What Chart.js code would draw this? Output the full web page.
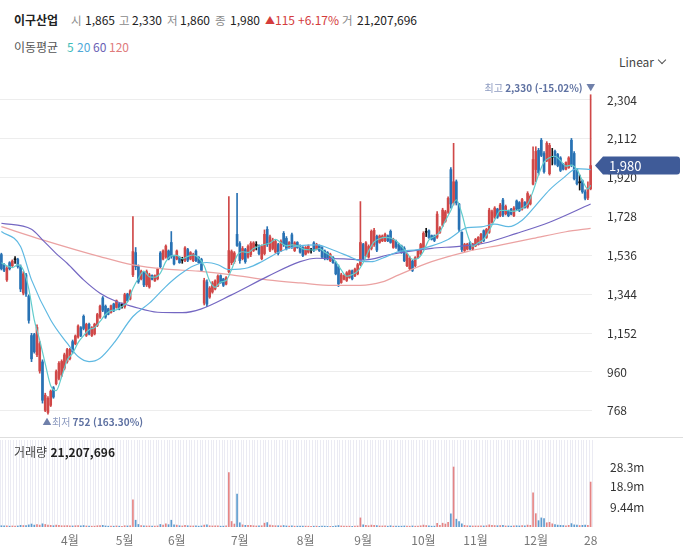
<!DOCTYPE html>
<html lang="ko">
<head>
<meta charset="utf-8">
<script src="https://cdn.jsdelivr.net/npm/chart.js@4.4.1/dist/chart.umd.min.js"></script>
<style>
html,body{margin:0;padding:0;background:#fff;}
body{font-family:"Noto Sans CJK KR","Noto Sans",sans-serif;}
#wrap{position:relative;width:683px;height:558px;overflow:hidden;}
.t{position:absolute;white-space:nowrap;line-height:16px;}
.h1{top:12px;font-size:12px;color:#222;}
.g{color:#8a8a8a;font-size:11.5px;}
.r{color:#d43c3c;}
.h2{top:39px;font-size:12px;}
#linear{left:619px;top:54px;font-size:12px;color:#444;}
.chev{position:absolute;left:659px;top:57px;width:5px;height:5px;border-right:1px solid #555;border-bottom:1px solid #555;transform:rotate(45deg);}
#mainC{position:absolute;left:0;top:80px;}
#volC{position:absolute;left:0;top:437px;}
#sep{position:absolute;left:0;top:437px;width:683px;height:1px;background:#dedede;}
#volLbl{left:14px;top:444px;font-size:12px;color:#222;}
</style>
</head>
<body>
<div id="wrap">
  <span class="t h1" style="left:14px;font-weight:bold;">이구산업</span>
  <span class="t h1 g" style="left:71px;">시</span><span class="t h1" style="left:85px;">1,865</span>
  <span class="t h1 g" style="left:119px;">고</span><span class="t h1" style="left:132px;">2,330</span>
  <span class="t h1 g" style="left:167px;">저</span><span class="t h1" style="left:180px;">1,860</span>
  <span class="t h1 g" style="left:215px;">종</span><span class="t h1" style="left:230px;">1,980</span>
  <span class="t h1 r" style="left:265px;font-size:10px;top:12px;">▲</span><span class="t h1 r" style="left:275px;">115</span>
  <span class="t h1 r" style="left:298px;">+6.17%</span>
  <span class="t h1 g" style="left:342px;">거</span><span class="t h1" style="left:357px;">21,207,696</span>

  <span class="t h2" style="left:14px;color:#555;">이동평균</span>
  <span class="t h2" style="left:67px;color:#3dbdb8;">5</span>
  <span class="t h2" style="left:77px;color:#4fa9d8;">20</span>
  <span class="t h2" style="left:93px;color:#6a5fb5;">60</span>
  <span class="t h2" style="left:109px;color:#e07b7b;">120</span>

  <span class="t" id="linear">Linear</span><span class="chev"></span>

  <canvas id="mainC" width="683" height="357"></canvas>
  <canvas id="volC" width="683" height="121"></canvas>
  <div id="sep"></div>
  <span class="t" id="volLbl"><span style="color:#444">거래량</span> <span style="font-weight:bold">21,207,696</span></span>
</div>
<script>
// ---------------- data ----------------
const openP = [1540,1490,1415,1500,1485,1515,1516,1480,1350,1440,
1335,1140,1145,1045,965,1010,770,760,795,882,
902,928,945,978,1010,1026,1110,1099,1133,1179,
1235,1141,1196,1140,1148,1190,1231,1326,1285,1272,
1254,1296,1279,1297,1288,1282,1345,1320,1440,1550,
1482,1420,1450,1390,1380,1437,1410,1420,1548,1518,
1528,1558,1600,1534,1518,1527,1512,1512,1565,1518,
1510,1557,1527,1516,1300,1405,1330,1355,1370,1388,
1436,1419,1394,1455,1500,1505,1640,1595,1520,1565,
1528,1540,1560,1585,1582,1520,1545,1665,1562,1570,
1553,1590,1560,1645,1620,1575,1638,1560,1600,1584,
1575,1542,1552,1560,1598,1567,1585,1575,1558,1550,
1510,1527,1500,1480,1402,1418,1412,1427,1460,1435,
1445,1490,1590,1535,1528,1570,1590,1630,1600,1608,
1608,1633,1655,1575,1605,1590,1582,1572,1485,1470,
1508,1485,1527,1543,1570,1650,1658,1634,1632,1626,
1650,1685,1705,1750,1960,1795,1900,1790,1650,1560,
1567,1600,1567,1583,1590,1600,1658,1625,1650,1700,
1725,1765,1733,1810,1742,1755,1764,1732,1805,1797,
1765,1798,1775,1790,1888,1960,2055,2105,2040,2005,
1940,2020,2050,2035,2018,1986,1962,1970,2105,2040,
1960,1895,1905,1850,1820,1865];
const highP = [1547,1495,1481,1505,1514,1530,1522,1489,1456,1448,
1341,1151,1151,1193,1110,1020,855,838,871,888,
970,1011,1020,1053,1077,1077,1118,1143,1193,1184,
1242,1201,1201,1184,1201,1250,1291,1333,1291,1275,
1291,1300,1316,1300,1300,1349,1349,1366,1728,1575,
1489,1464,1456,1464,1448,1440,1440,1473,1555,1563,
1588,1563,1654,1538,1563,1530,1527,1580,1571,1555,
1547,1563,1530,1522,1423,1415,1382,1407,1415,1440,
1440,1423,1431,1827,1563,1555,1843,1604,1580,1571,
1588,1604,1604,1604,1588,1588,1662,1678,1637,1621,
1613,1596,1613,1654,1629,1604,1646,1604,1604,1588,
1580,1580,1588,1571,1604,1596,1588,1580,1563,1555,
1547,1530,1505,1489,1448,1440,1456,1464,1464,1473,
1497,1802,1596,1604,1588,1662,1670,1637,1637,1637,
1646,1637,1662,1621,1612,1596,1587,1579,1546,1530,
1513,1530,1563,1596,1653,1670,1662,1637,1637,1752,
1678,1769,1759,1826,1970,2090,1909,1793,1653,1596,
1596,1604,1596,1620,1629,1645,1662,1670,1769,1760,
1777,1769,1793,1818,1785,1760,1769,1777,1810,1802,
1818,1802,1851,1835,2073,2073,2065,2114,2049,2098,
2090,2065,2057,2040,2024,1991,1999,2024,2114,2049,
1966,1933,1909,1860,1900,2330];
const lowP = [1464,1455,1407,1464,1481,1497,1473,1357,1341,1333,
1201,1011,1053,1036,954,806,764,752,789,830,
896,921,937,970,1003,1020,1053,1094,1127,1135,
1168,1135,1143,1135,1143,1184,1225,1258,1225,1242,
1250,1258,1275,1267,1275,1275,1308,1316,1431,1465,
1398,1415,1382,1382,1374,1415,1407,1415,1473,1514,
1522,1514,1522,1489,1514,1497,1497,1505,1505,1514,
1505,1505,1497,1456,1291,1283,1324,1349,1366,1382,
1398,1382,1390,1450,1490,1497,1580,1497,1514,1497,
1522,1530,1555,1563,1538,1514,1538,1580,1555,1563,
1547,1538,1555,1580,1563,1571,1571,1555,1571,1547,
1530,1538,1547,1547,1555,1563,1555,1522,1514,1514,
1505,1497,1440,1382,1398,1415,1407,1423,1415,1431,
1440,1485,1514,1530,1522,1563,1580,1555,1596,1604,
1604,1604,1596,1571,1571,1555,1546,1505,1480,1464,
1456,1480,1522,1538,1563,1629,1620,1612,1604,1620,
1645,1678,1700,1744,1770,1785,1785,1653,1555,1555,
1563,1563,1563,1579,1587,1596,1604,1620,1645,1695,
1719,1719,1727,1727,1736,1727,1736,1727,1760,1752,
1760,1769,1769,1785,1884,1900,1933,2024,1942,1999,
1933,1983,1983,1974,1950,1958,1958,1966,1974,1909,
1884,1859,1843,1810,1812,1860];
const closeP = [1470,1462,1472,1470,1508,1515,1480,1370,1445,1345,
1215,1025,1060,1180,1100,820,845,830,865,836,
962,1003,1012,1045,1070,1072,1060,1138,1187,1140,
1175,1195,1148,1179,1196,1244,1285,1265,1231,1245,
1287,1262,1312,1270,1288,1342,1312,1361,1555,1480,
1405,1458,1390,1456,1440,1418,1436,1468,1480,1558,
1582,1518,1530,1494,1558,1500,1512,1573,1512,1550,
1542,1510,1500,1462,1412,1295,1375,1400,1410,1434,
1402,1388,1426,1560,1555,1548,1585,1510,1570,1505,
1580,1595,1598,1585,1545,1580,1640,1590,1628,1612,
1605,1545,1605,1588,1570,1600,1578,1598,1575,1552,
1535,1575,1582,1560,1560,1590,1560,1528,1520,1518,
1542,1500,1445,1395,1440,1436,1450,1460,1420,1468,
1490,1600,1520,1598,1580,1655,1660,1562,1632,1632,
1640,1608,1600,1615,1578,1560,1550,1510,1540,1522,
1462,1525,1557,1590,1645,1650,1625,1616,1610,1740,
1672,1760,1752,1818,1790,1900,1795,1665,1565,1590,
1592,1568,1592,1615,1625,1640,1610,1665,1760,1752,
1770,1725,1785,1735,1778,1732,1740,1770,1765,1758,
1812,1773,1842,1828,2010,2050,1945,2030,1950,2090,
2080,2020,1990,1980,1956,1962,1995,2018,1980,1915,
1890,1895,1850,1818,1865,1980];
// volume in millions of shares
const volumeM = [0.6,0.5,0.5,0.4,0.5,0.4,0.5,0.8,0.7,0.7,
1.0,1.4,0.9,1.1,0.9,1.5,1.2,0.9,0.8,0.6,
0.9,0.8,0.6,0.6,0.7,0.5,0.5,0.6,0.7,0.5,
0.7,0.5,0.4,0.4,0.4,0.6,0.7,0.8,0.5,0.4,
0.4,0.4,0.5,0.4,0.3,0.6,0.5,0.6,12.8,3.2,
1.2,0.7,0.6,0.5,0.5,0.4,0.4,0.5,1.2,0.9,
1.5,1.1,3.2,1.0,0.9,0.6,0.5,0.8,0.6,0.5,
0.5,0.5,0.4,0.5,0.9,1.0,0.6,0.5,0.5,0.5,
0.4,0.4,0.5,25.7,2.6,1.4,15.5,2.0,1.0,0.8,
0.8,0.8,0.6,0.5,0.5,0.6,1.8,2.1,0.9,0.7,
0.6,0.6,0.6,0.7,0.5,0.4,0.5,0.4,0.4,0.4,
0.4,0.4,0.4,0.3,0.4,0.4,0.3,0.4,0.4,0.3,
0.3,0.3,0.5,0.7,0.5,0.4,0.4,0.4,0.3,0.4,
0.5,4.3,1.0,0.8,0.6,0.9,0.8,0.7,0.5,0.5,
0.5,0.4,0.6,0.4,0.4,0.4,0.4,0.5,0.4,0.4,
0.5,0.4,0.4,0.6,0.9,0.7,0.5,0.4,0.4,1.7,
0.8,1.8,1.4,2.2,6.2,28.3,3.7,2.5,1.5,0.8,
0.6,0.6,0.5,0.5,0.5,0.6,0.5,0.6,1.0,0.8,
0.7,0.6,0.7,0.8,0.5,0.5,0.4,0.5,0.6,0.5,
0.7,0.5,0.9,0.8,16.1,6.3,3.0,4.3,4.0,2.0,
2.2,1.5,1.2,0.9,0.8,0.7,0.6,0.8,1.6,1.0,
0.9,0.7,0.8,0.9,0.8,21.21];
// moving averages: [bar index, value]
const ma5 = [[0,1500],[2,1485],[4,1476],[6,1489],[8,1464],[10,1371],[12,1218],[14,1116],[16,1001],[18,892],[20,868],[22,936],[24,1018],[26,1052],[28,1105],[30,1140],[32,1169],[34,1179],[36,1210],[38,1244],[40,1263],[42,1267],[44,1284],[46,1305],[48,1372],[50,1423],[52,1458],[54,1430],[56,1428],[58,1448],[60,1505],[62,1534],[64,1536],[66,1519],[68,1531],[70,1538],[72,1523],[74,1485],[76,1409],[78,1378],[80,1404],[82,1412],[84,1466],[86,1535],[88,1554],[90,1550],[92,1570],[94,1581],[96,1590],[98,1597],[100,1615],[102,1599],[104,1583],[106,1588],[108,1584],[110,1568],[112,1564],[114,1562],[116,1570],[118,1552],[120,1534],[122,1505],[124,1464],[126,1433],[128,1441],[130,1458],[132,1500],[134,1558],[136,1603],[138,1618],[140,1625],[142,1622],[144,1608],[146,1581],[148,1548],[150,1517],[152,1521],[154,1556],[156,1613],[158,1629],[160,1653],[162,1707],[164,1758],[166,1811],[168,1743],[170,1641],[172,1581],[174,1598],[176,1616],[178,1660],[180,1711],[182,1758],[184,1759],[186,1754],[188,1757],[190,1769],[192,1790],[194,1853],[196,1935],[198,1997],[200,2019],[202,2026],[204,2005],[206,1977],[208,1982],[210,1960],[212,1906],[214,1864],[215,1882]];
const ma20 = [[0,1654],[7,1580],[11,1415],[18,1217],[24,1102],[28,1036],[32,1011],[36,1028],[41,1102],[48,1234],[54,1300],[60,1382],[65,1440],[70,1484],[75,1501],[79,1490],[83,1466],[87,1468],[90,1475],[95,1505],[101,1550],[105,1572],[109,1584],[115,1588],[121,1563],[127,1530],[131,1508],[135,1505],[139,1522],[145,1555],[152,1565],[157,1583],[163,1615],[170,1673],[175,1677],[180,1691],[185,1678],[190,1710],[195,1783],[200,1860],[205,1918],[210,1965],[215,1960]];
const ma60 = [[0,1695],[11,1665],[15,1613],[20,1545],[24,1497],[30,1415],[36,1349],[42,1308],[48,1283],[57,1255],[66,1253],[73,1272],[84,1341],[97,1431],[109,1505],[115,1522],[125,1519],[133,1514],[141,1538],[148,1555],[157,1571],[167,1581],[176,1596],[188,1645],[200,1700],[215,1790]];
const ma120 = [[0,1678],[15,1613],[36,1530],[48,1489],[60,1468],[72,1458],[84,1440],[97,1415],[109,1400],[121,1388],[131,1388],[139,1405],[145,1440],[157,1505],[170,1555],[182,1587],[194,1620],[206,1653],[215,1670]];
const priceTicks = [768,960,1152,1344,1536,1728,1920,2112,2304];
const volTicks = [9.44,18.9,28.3];
const volTickLabels = ['9.44m','18.9m','28.3m'];
const monthTickIdx = [25,45,64,87,111,132,154,173,195,215];
const monthTickLabels = ['4월','5월','6월','7월','8월','9월','10월','11월','12월','28'];

// ---------------- styling ----------------
const FONT = '"Noto Sans CJK KR","Noto Sans",sans-serif';
Chart.defaults.font.family = FONT;
const UP = '#d04848', DOWN = '#2872b4', DOJI = '#111111';
const VUP = '#e58484', VDOWN = '#5e9ccf';
const N = closeP.length;
const idx = Array.from({length: N}, (_, i) => i);
const dir = i => closeP[i] > openP[i] ? 1 : (closeP[i] < openP[i] ? -1 : 0);
const cCol = idx.map(i => dir(i) > 0 ? UP : dir(i) < 0 ? DOWN : DOJI);
const vCol = idx.map(i => dir(i) < 0 ? VDOWN : VUP);
const RIGHT_W = 91;
const fmt = v => Math.round(v).toLocaleString('en-US');
const pts = arr => arr.map(p => ({x: p[0], y: p[1]}));
const lineDs = (arr, color) => ({type: 'line', data: pts(arr), borderColor: color, borderWidth: 1.2, pointRadius: 0, cubicInterpolationMode: 'monotone', fill: false});

const annot = {
  id: 'annot',
  afterDraw(chart) {
    const {ctx, scales: {x, y}, chartArea} = chart;
    let hi = 0, lo = 0;
    for (let i = 0; i < N; i++) { if (highP[i] > highP[hi]) hi = i; if (lowP[i] < lowP[lo]) lo = i; }
    const last = N - 1, lc = closeP[last];
    ctx.save();
    ctx.textBaseline = 'middle';
    // highest
    const xh = x.getPixelForValue(hi), yh = y.getPixelForValue(highP[hi]) - 7;
    const hiTxt1 = '최고 ', hiTxt2 = fmt(highP[hi]) + ' (' + ((lc / highP[hi] - 1) * 100).toFixed(2) + '%)';
    ctx.font = '9px ' + FONT; ctx.fillStyle = '#6f80aa'; ctx.textAlign = 'center';
    ctx.fillText('▼', xh, yh);
    ctx.textAlign = 'left';
    ctx.font = 'bold 10px ' + FONT; const w2 = ctx.measureText(hiTxt2).width;
    ctx.font = '10px ' + FONT; const w1 = ctx.measureText(hiTxt1).width;
    let sx = xh - 8 - w2 - w1;
    ctx.fillStyle = '#8d9bc0'; ctx.fillText(hiTxt1, sx, yh);
    ctx.font = 'bold 10px ' + FONT; ctx.fillStyle = '#5f72a2'; ctx.fillText(hiTxt2, sx + w1, yh);
    // lowest
    const xl = x.getPixelForValue(lo), yl = y.getPixelForValue(lowP[lo]) + 8;
    ctx.font = '9px ' + FONT; ctx.fillStyle = '#6f80aa'; ctx.textAlign = 'center';
    ctx.fillText('▲', xl - 1, yl);
    ctx.textAlign = 'left';
    ctx.font = '10px ' + FONT; ctx.fillStyle = '#8d9bc0';
    const lt1 = '최저 '; ctx.fillText(lt1, xl + 4, yl);
    const lw1 = ctx.measureText(lt1).width;
    ctx.font = 'bold 10px ' + FONT; ctx.fillStyle = '#5f72a2';
    ctx.fillText(fmt(lowP[lo]) + ' (' + ((lc / lowP[lo] - 1) * 100).toFixed(2) + '%)', xl + 4 + lw1, yl);
    // last price tag
    const yc = y.getPixelForValue(lc), x0 = chartArea.right + 3, x1 = x0 + 8, x2 = 680, hh = 9, r = 3;
    ctx.fillStyle = '#3f5b98';
    ctx.beginPath();
    ctx.moveTo(x0, yc); ctx.lineTo(x1, yc - hh); ctx.lineTo(x2 - r, yc - hh);
    ctx.quadraticCurveTo(x2, yc - hh, x2, yc - hh + r); ctx.lineTo(x2, yc + hh - r);
    ctx.quadraticCurveTo(x2, yc + hh, x2 - r, yc + hh); ctx.lineTo(x1, yc + hh); ctx.closePath();
    ctx.fill();
    ctx.fillStyle = '#ffffff'; ctx.font = '13px ' + FONT; ctx.textAlign = 'left';
    ctx.fillText(fmt(lc), x1 + 6, yc + 0.5);
    ctx.restore();
  }
};

new Chart(document.getElementById('mainC'), {
  type: 'bar',
  data: {
    datasets: [
      lineDs(ma5, '#62cccc'),
      lineDs(ma20, '#5fb9e2'),
      lineDs(ma60, '#7467c2'),
      lineDs(ma120, '#eba2a2'),
      {type: 'bar', data: idx.map(i => ({x: i, y: [lowP[i], highP[i]]})), backgroundColor: cCol, barThickness: 1, grouped: false, borderWidth: 0},
      {type: 'bar', data: idx.map(i => ({x: i, y: [openP[i], closeP[i]]})), backgroundColor: cCol, barThickness: 2, grouped: false, borderWidth: 0, minBarLength: 1}
    ]
  },
  options: {
    responsive: false, animation: false, events: [],
    layout: {padding: {top: 5, bottom: 5, left: 0, right: 0}},
    plugins: {legend: {display: false}, tooltip: {enabled: false}},
    scales: {
      x: {type: 'linear', min: -0.5, max: N - 0.5, display: false, offset: false},
      y: {
        position: 'right', min: 663.3, max: 2378.1,
        afterFit(s) { s.width = RIGHT_W; },
        afterBuildTicks(s) { s.ticks = priceTicks.map(v => ({value: v})); },
        ticks: {padding: 0, color: '#333', font: {size: 12, lineHeight: 0.8}, callback: v => fmt(v)},
        grid: {color: '#ededed', drawTicks: true, tickLength: 15, tickColor: 'rgba(0,0,0,0)'},
        border: {display: false}
      }
    }
  },
  plugins: [annot]
});

new Chart(document.getElementById('volC'), {
  type: 'bar',
  data: {
    datasets: [{data: idx.map(i => ({x: i, y: volumeM[i]})), backgroundColor: vCol, barThickness: 1, borderWidth: 0}]
  },
  options: {
    responsive: false, animation: false, events: [],
    layout: {padding: {top: 3, bottom: 0, left: 0, right: 0}},
    plugins: {legend: {display: false}, tooltip: {enabled: false}},
    scales: {
      x: {
        type: 'linear', min: -0.5, max: N - 0.5, offset: false,
        afterFit(s) { s.height = 31; },
        afterBuildTicks(s) { s.ticks = idx.map(i => ({value: i})); },
        ticks: {autoSkip: false, maxRotation: 0, padding: 0, color: '#777', font: {size: 12},
          callback: v => { const k = monthTickIdx.indexOf(v); return k >= 0 ? monthTickLabels[k] : ''; }},
        grid: {color: '#ebebf3', drawTicks: true, tickLength: 6, tickColor: 'rgba(0,0,0,0)', lineWidth: 1},
        border: {display: false}
      },
      y: {
        position: 'right', min: 0, max: 41.04,
        afterFit(s) { s.width = RIGHT_W; },
        afterBuildTicks(s) { s.ticks = volTicks.map(v => ({value: v})); },
        ticks: {padding: 0, color: '#333', font: {size: 12, lineHeight: 0.5}, callback: v => volTickLabels[volTicks.indexOf(v)]},
        grid: {display: false, drawTicks: true, tickLength: 18, tickColor: 'rgba(0,0,0,0)'},
        border: {display: false}
      }
    }
  }
});
</script>
</body>
</html>
